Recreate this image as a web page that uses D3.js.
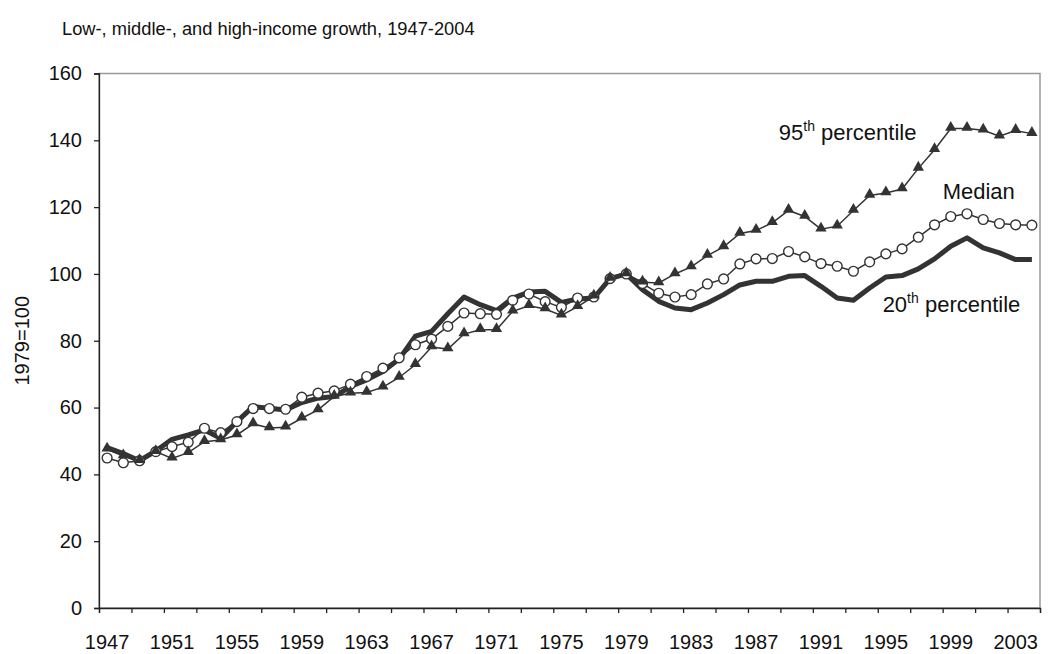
<!DOCTYPE html>
<html lang="en">
<head>
<meta charset="UTF-8"/>
<title>Low-, middle-, and high-income growth</title>
<script src="https://d3js.org/d3.v7.min.js"></script>
<style>
  body { margin: 0; background: #fff; }
  svg text { font-family: "Liberation Sans", Arial, sans-serif; fill: #111; }
</style>
</head>
<body>
<script>
// categories: one per year
var years = [1947,1948,1949,1950,1951,1952,1953,1954,1955,1956,
             1957,1958,1959,1960,1961,1962,1963,1964,1965,1966,
             1967,1968,1969,1970,1971,1972,1973,1974,1975,1976,
             1977,1978,1979,1980,1981,1982,1983,1984,1985,1986,
             1987,1988,1989,1990,1991,1992,1993,1994,1995,1996,
             1997,1998,1999,2000,2001,2002,2003,2004];

// index, 1979=100
var p95 = [47.5,45.5,44.1,46.8,44.8,46.5,49.8,50.3,51.8,55.1,
           53.9,54.1,56.8,59.3,63.3,64.3,64.5,66.1,69.0,72.8,
           78.1,77.5,82.0,83.3,83.3,88.8,90.5,89.5,87.6,90.2,
           93.3,98.6,100,97.5,97.3,100,102.1,105.5,108.1,112.1,
           113,115.3,119,117.2,113.4,114.3,119,123.5,124.2,125.4,
           131.6,137.2,143.5,143.5,143,141.2,142.9,142];

var median = [44.9,43.5,44.1,46.8,48.3,49.6,53.8,52.5,55.8,59.7,
              59.7,59.5,63.1,64.3,65,67,69.3,71.8,74.9,78.8,
              80.5,84.3,88.3,88.1,87.9,92.1,94,91.7,90,92.8,
              93.1,98.6,100,97.1,94.2,93.1,93.8,97,98.5,103,
              104.5,104.6,106.7,105.1,103.1,102.3,100.8,103.6,106,107.5,
              111,114.7,117.2,118,116.3,115.1,114.7,114.6];

var p20 = [48,46.2,44.1,47,50.5,51.8,53.3,50.8,55.8,60.3,
           59.8,59.3,61.5,62.8,63.3,66.3,68.3,70.8,74.5,81.4,
           82.8,88.1,93.1,90.8,89,92.8,94.6,94.8,91.5,92.5,
           92.8,98.6,100,95.3,91.8,89.8,89.3,91.3,93.8,96.7,
           97.8,97.8,99.3,99.5,96.3,92.8,92.1,95.8,99.1,99.5,
           101.5,104.5,108.3,110.8,107.8,106.3,104.3,104.3];

var yTicks = [0,20,40,60,80,100,120,140,160];
var xLabelYears = [1947,1951,1955,1959,1963,1967,1971,1975,1979,1983,1987,1991,1995,1999,2003];

var W = 1051, H = 654;
var pL = 99, pR = 1040, pT = 73.5, pB = 608;
var ink = "#333";

var svg = d3.select("body").append("svg")
    .attr("width", W)
    .attr("height", H);

var x = d3.scaleBand().domain(years).range([pL, pR]).padding(0);
var xb = d3.scaleLinear().domain([0, years.length]).range([pL, pR]);
var y = d3.scaleLinear().domain([0, 160]).range([pB, pT]);
var cx = function(yr){ return x(yr) + x.bandwidth()/2; };

// title
svg.append("text")
    .attr("x", 62).attr("y", 35)
    .style("font-size", "18.3px")
    .text("Low-, middle-, and high-income growth, 1947-2004");

// plot area border (only top/right show)
svg.append("rect")
    .attr("x", pL).attr("y", pT)
    .attr("width", pR - pL).attr("height", pB - pT)
    .attr("fill", "none").attr("stroke", "#999").attr("stroke-width", 1.5);

// y axis
var yAxis = svg.append("g")
    .attr("transform", "translate(" + pL + ",0)")
    .call(d3.axisLeft(y).tickValues(yTicks).tickSize(5).tickPadding(12));
yAxis.selectAll("text").style("font-size", "20px");

// x axis: tick marks every 2 years at category edges
svg.append("g")
    .attr("transform", "translate(0," + pB + ")")
    .call(d3.axisBottom(xb).tickValues(d3.range(0, years.length + 1, 2)).tickSize(5).tickFormat(""));
// labels every 4 years, centred on category
var xLab = svg.append("g")
    .attr("transform", "translate(0," + pB + ")")
    .call(d3.axisBottom(x).tickValues(xLabelYears).tickSize(0).tickPadding(27));
xLab.select(".domain").remove();
xLab.selectAll("text").style("font-size", "20px");

svg.selectAll(".domain, .tick line").attr("stroke", "#222").attr("stroke-width", 1.3);

// y axis title
svg.append("text")
    .attr("transform", "translate(29," + ((pT + pB) / 2) + ") rotate(-90)")
    .attr("text-anchor", "middle")
    .style("font-size", "20px")
    .text("1979=100");

var line = d3.line()
    .x(function(d, i){ return cx(years[i]); })
    .y(function(d){ return y(d); });

// 20th percentile: thick line, no markers
svg.append("path")
    .datum(p20)
    .attr("d", line)
    .attr("fill", "none").attr("stroke", ink)
    .attr("stroke-width", 5).attr("stroke-linejoin", "round");

// median: thin line, open circles
svg.append("path")
    .datum(median)
    .attr("d", line)
    .attr("fill", "none").attr("stroke", ink).attr("stroke-width", 1.5);
svg.selectAll(".med").data(median).enter().append("circle")
    .attr("class", "med")
    .attr("cx", function(d, i){ return cx(years[i]); })
    .attr("cy", function(d){ return y(d); })
    .attr("r", 4.9)
    .attr("fill", "#fff").attr("stroke", ink).attr("stroke-width", 1.4);

// 95th percentile: thin line, filled triangles
svg.append("path")
    .datum(p95)
    .attr("d", line)
    .attr("fill", "none").attr("stroke", ink).attr("stroke-width", 1.5);
var tri = d3.symbol().type(d3.symbolTriangle).size(55);
svg.selectAll(".p95").data(p95).enter().append("path")
    .attr("class", "p95")
    .attr("d", tri)
    .attr("transform", function(d, i){ return "translate(" + cx(years[i]) + "," + (y(d) - 1) + ")"; })
    .attr("fill", ink);

// series labels, anchored in data space (year, value)
var labels = [
  {yr: 1988.4, v: 140.2, big: "95", sup: "th", rest: " percentile"},
  {yr: 1998.5, v: 122.5, big: "Median", sup: "", rest: ""},
  {yr: 1994.8, v: 88.7, big: "20", sup: "th", rest: " percentile"}
];
var xc = d3.scaleLinear().domain([1947, 2004]).range([cx(1947), cx(2004)]);
labels.forEach(function(l){
  var t = svg.append("text")
      .attr("x", xc(l.yr)).attr("y", y(l.v))
      .style("font-size", "22px");
  t.append("tspan").text(l.big);
  if (l.sup) {
    t.append("tspan").attr("dy", -9).style("font-size", "14px").text(l.sup);
    t.append("tspan").attr("dy", 9).text(l.rest);
  }
});
</script>
</body>
</html>
